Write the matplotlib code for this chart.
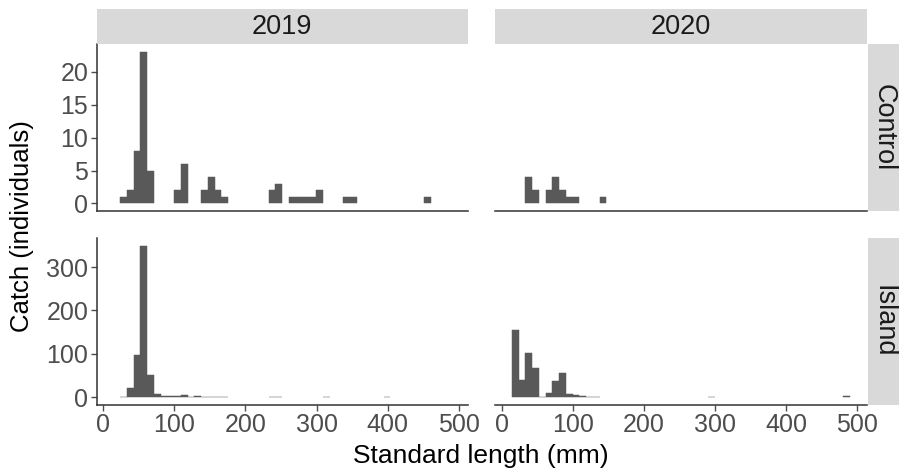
import matplotlib
matplotlib.use("Agg")
import matplotlib.pyplot as plt
import numpy as np

plt.rcParams['font.family'] = ['Liberation Sans', 'DejaVu Sans']

# ---- data (histogram bins: bin n spans [(n-0.5)*w, (n+0.5)*w]) ----
bin_width = 9.5
years = ["2019", "2020"]
sites = ["Control", "Island"]

ctrl_2019_bins = [3, 4, 5, 6, 7, 11, 12, 15, 16, 17, 18, 25, 26, 28, 29, 30, 31, 32, 36, 37, 48]
ctrl_2019_counts = [1, 2, 8, 23, 5, 2, 6, 2, 4, 2, 1, 2, 3, 1, 1, 1, 1, 2, 1, 1, 1]

ctrl_2020_bins = [4, 5, 7, 8, 9, 10, 11, 15]
ctrl_2020_counts = [4, 2, 2, 4, 2, 1, 1, 1]

isl_2019_bins = [3, 4, 5, 6, 7, 8, 9, 10, 11, 12, 13, 14, 15, 16, 17, 18, 25, 26, 33, 42]
isl_2019_counts = [1, 20, 96, 350, 50, 6, 2, 2, 2, 4, 1, 3, 1, 1, 1, 1, 1, 1, 1, 1]

isl_2020_bins = [2, 3, 4, 5, 6, 7, 8, 9, 10, 11, 12, 13, 14, 31, 51]
isl_2020_counts = [154, 39, 102, 67, 1, 9, 36, 56, 8, 4, 2, 1, 1, 1, 2]

x_ticks = [0, 100, 200, 300, 400, 500]
ctrl_yticks = [0, 5, 10, 15, 20]
isl_yticks = [0, 100, 200, 300]

panels = {
    ("Control", "2019"): (ctrl_2019_bins, ctrl_2019_counts),
    ("Control", "2020"): (ctrl_2020_bins, ctrl_2020_counts),
    ("Island", "2019"): (isl_2019_bins, isl_2019_counts),
    ("Island", "2020"): (isl_2020_bins, isl_2020_counts),
}

# ---- layout ----
W, H = 899, 475
fig = plt.figure(figsize=(W / 100, H / 100), dpi=100)

col_left = [96.5, 495.0]
col_w = 371.5
row_top = [44.4, 238.0]
row_h = 166.6

bar_color = "#595959"
axis_color = "#333333"
tick_color = "#4D4D4D"
strip_color = "#D9D9D9"

all_min = 1.5 * bin_width
all_max = 51.5 * bin_width
xr = all_max - all_min
xlim = (all_min - 0.05 * xr, all_max + 0.05 * xr)

row_max = {"Control": 23, "Island": 350}
row_ticks = {"Control": ctrl_yticks, "Island": isl_yticks}

def fig_rect(px, py, pw, ph):
    return [px / W, (H - py - ph) / H, pw / W, ph / H]

for ri, site in enumerate(sites):
    for ci, yr in enumerate(years):
        ax = fig.add_axes(fig_rect(col_left[ci], row_top[ri], col_w, row_h))
        bins, counts = panels[(site, yr)]
        centers = np.array(bins) * bin_width
        ax.bar(centers, counts, width=bin_width, color=bar_color,
               edgecolor=bar_color, linewidth=0.35)
        ax.set_xlim(*xlim)
        m = row_max[site]
        ax.set_ylim(-0.05 * m, m * 1.05)
        for s in ["top", "right"]:
            ax.spines[s].set_visible(False)
        ax.spines["bottom"].set_color(axis_color)
        ax.spines["bottom"].set_linewidth(1.1)
        ax.spines["left"].set_color(axis_color)
        ax.spines["left"].set_linewidth(1.1)
        ax.tick_params(colors=tick_color, labelsize=18, length=4, width=1.0,
                       labelcolor=tick_color, pad=2)
        ax.set_xticks(x_ticks)
        ax.set_yticks(row_ticks[site])
        if ri == 0:
            ax.tick_params(axis="x", bottom=False, labelbottom=False)
        if ci == 1:
            ax.spines["left"].set_visible(False)
            ax.tick_params(axis="y", left=False, labelleft=False)
        ax.patch.set_alpha(0)

# top strips
for ci, yr in enumerate(years):
    sax = fig.add_axes(fig_rect(col_left[ci], 9.3, col_w, 34.5))
    sax.set_facecolor(strip_color)
    sax.set_xticks([]); sax.set_yticks([])
    for s in sax.spines.values():
        s.set_visible(False)
    sax.text(0.5, 0.5, yr, ha="center", va="center", fontsize=19.5,
             color="#1A1A1A", transform=sax.transAxes)

# right strips
for ri, site in enumerate(sites):
    sax = fig.add_axes(fig_rect(868, row_top[ri], 31, row_h))
    sax.set_facecolor(strip_color)
    sax.set_xticks([]); sax.set_yticks([])
    for s in sax.spines.values():
        s.set_visible(False)
    sax.text(0.5, 0.5, site, ha="center", va="center", fontsize=19.5,
             color="#1A1A1A", rotation=-90, transform=sax.transAxes)

fig.text(481 / W, 1 - 456 / H, "Standard length (mm)", ha="center", va="center",
         fontsize=19, color="#000000")
fig.text(22 / W, 1 - 226 / H, "Catch (individuals)", ha="center", va="center",
         fontsize=18.5, color="#000000", rotation=90)

fig.savefig("out.png", dpi=100)
